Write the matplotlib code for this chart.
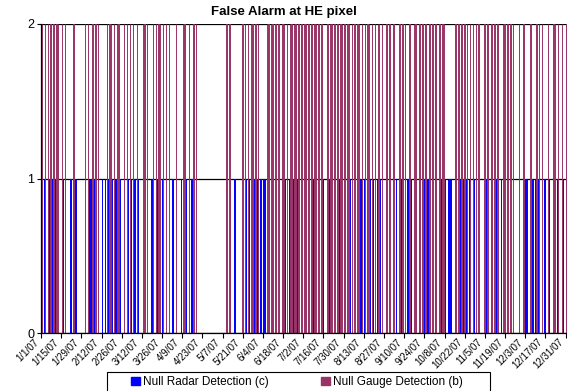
""" Daily false alarm occurrences at the HE pixel, 2007 """
import numpy as np
import matplotlib
matplotlib.use("Agg")
import matplotlib.pyplot as plt
import matplotlib.transforms as mtransforms
from matplotlib.patches import Patch, Rectangle

plt.rcParams['font.family'] = ['Liberation Sans', 'DejaVu Sans']

N_DAYS = 365

# day-of-year (0 = 1/1/07) with a null radar detection, value 1
radar_days = [2, 5, 6, 7, 9, 15, 20, 22, 23, 24, 33, 34, 36, 42, 44, 46, 47, 48,
              49, 51, 52, 54, 60, 62, 64, 65, 67, 76, 77, 80, 81, 82, 84, 91, 97,
              100, 104,
              128, 131, 134, 142, 144, 146, 148, 150, 152, 154, 155, 160, 167, 168,
              169, 172, 175, 177, 185, 188, 195, 199, 200, 205, 207, 210, 212, 214,
              221, 222, 224, 226, 228, 230, 233,
              235, 239, 246, 249, 251, 254, 256, 260, 262, 265, 268, 273, 277, 280,
              282, 283, 284, 287, 290, 293, 295, 297, 300, 309, 312, 315, 319, 321,
              323, 335, 336, 337, 340, 341, 343, 345, 349, 352, 356, 358, 362, 364]
radar_value = 1

# day-of-year with a null gauge detection, value 2
gauge_days = [0, 2, 4, 6, 8, 10, 11, 14, 16, 22, 30, 32, 35, 37, 39, 45, 47, 48,
              50, 52, 53, 57, 59, 61, 63, 66, 70, 71, 73, 77, 79, 81, 82, 84, 86,
              88, 93, 98, 99, 102, 105, 107,
              128, 130, 139, 141, 143, 145, 146, 148, 150, 156, 157, 159, 160, 162,
              164, 167, 168, 170, 172, 173, 175, 176, 178, 180, 182, 183, 185, 187,
              189, 190, 192, 194, 198, 200, 201, 203, 205, 207, 208, 210, 212, 213,
              215, 217, 219, 220, 222, 224, 226, 227, 229, 231, 233, 234,
              236, 239, 241, 244, 248, 250, 252, 255, 258, 259, 262, 264, 266, 269,
              271, 273, 276, 278, 279, 287, 289, 291, 293, 295, 297, 299, 301, 303,
              307, 309, 312, 314, 316, 320, 321, 323, 325, 327, 331, 334, 339, 343,
              345, 347, 351, 355, 356, 358, 361, 364]
gauge_value = 2

tick_labels = ["1/1/07", "1/15/07", "1/29/07", "2/12/07", "2/26/07", "3/12/07",
               "3/26/07", "4/9/07", "4/23/07", "5/7/07", "5/21/07", "6/4/07",
               "6/18/07", "7/2/07", "7/16/07", "7/30/07", "8/13/07", "8/27/07",
               "9/10/07", "9/24/07", "10/8/07", "10/22/07", "11/5/07", "11/19/07",
               "12/3/07", "12/17/07", "12/31/07"]

blue = "#0000FF"
maroon = "#993366"

# build the two daily series
radar = np.zeros(N_DAYS)
radar[radar_days] = radar_value
gauge = np.zeros(N_DAYS)
gauge[gauge_days] = gauge_value
days = np.arange(N_DAYS)

fig = plt.figure(figsize=(5.67, 3.91), dpi=100)
ax = fig.add_axes([41/567, 1-333/391, 526/567, 309/391])

ax.bar(days - 0.2, radar, width=0.35, color=blue, edgecolor=blue, linewidth=0.7)
ax.bar(days + 0.2, gauge, width=0.35, color=maroon, edgecolor=maroon, linewidth=0.7)

ax.set_xlim(-0.5, N_DAYS - 0.5)
ax.set_ylim(0, 2)
ax.set_yticks([0, 1, 2])
ax.tick_params(axis='y', labelsize=9, length=3, width=0.8, pad=2)
ax.set_axisbelow(True)
ax.yaxis.grid(True, color='black', linewidth=0.9)

ax.set_xticks(np.arange(0, N_DAYS, 14) - 0.5)
ax.set_xticklabels(tick_labels, rotation=45, ha='right', va='center',
                   rotation_mode='anchor', fontsize=7)
ax.tick_params(axis='x', length=3.5, width=0.8, pad=2)
# nudge the date labels a little left so the last one stays inside
shift = mtransforms.ScaledTranslation(-4/100, 0, fig.dpi_scale_trans)
for lab in ax.get_xticklabels():
    lab.set_transform(lab.get_transform() + shift)

for s in ['top', 'right']:
    ax.spines[s].set_visible(False)
for s in ['left', 'bottom']:
    ax.spines[s].set_linewidth(0.9)

fig.text(0.5, 1 - 12/391, "False Alarm at HE pixel", ha='center', va='center',
         fontsize=9.5, fontweight='bold')

# legend box below the axis
fig.patches.append(Rectangle((107/567, -0.05), 383/567, (1-372/391) + 0.05,
                             transform=fig.transFigure, fill=False,
                             edgecolor='black', linewidth=0.8))
handles = [Patch(color=blue, label="Null Radar Detection (c)"),
           Patch(color=maroon, label="Null Gauge Detection (b)")]
fig.legend(handles=handles, loc='center', bbox_to_anchor=(297/567, 1-382/391),
           ncol=2, frameon=False, fontsize=8.5, handlelength=0.75,
           handleheight=0.75, handletextpad=0.3, columnspacing=4.4,
           borderpad=0, borderaxespad=0)

fig.savefig("out.png", dpi=100)
